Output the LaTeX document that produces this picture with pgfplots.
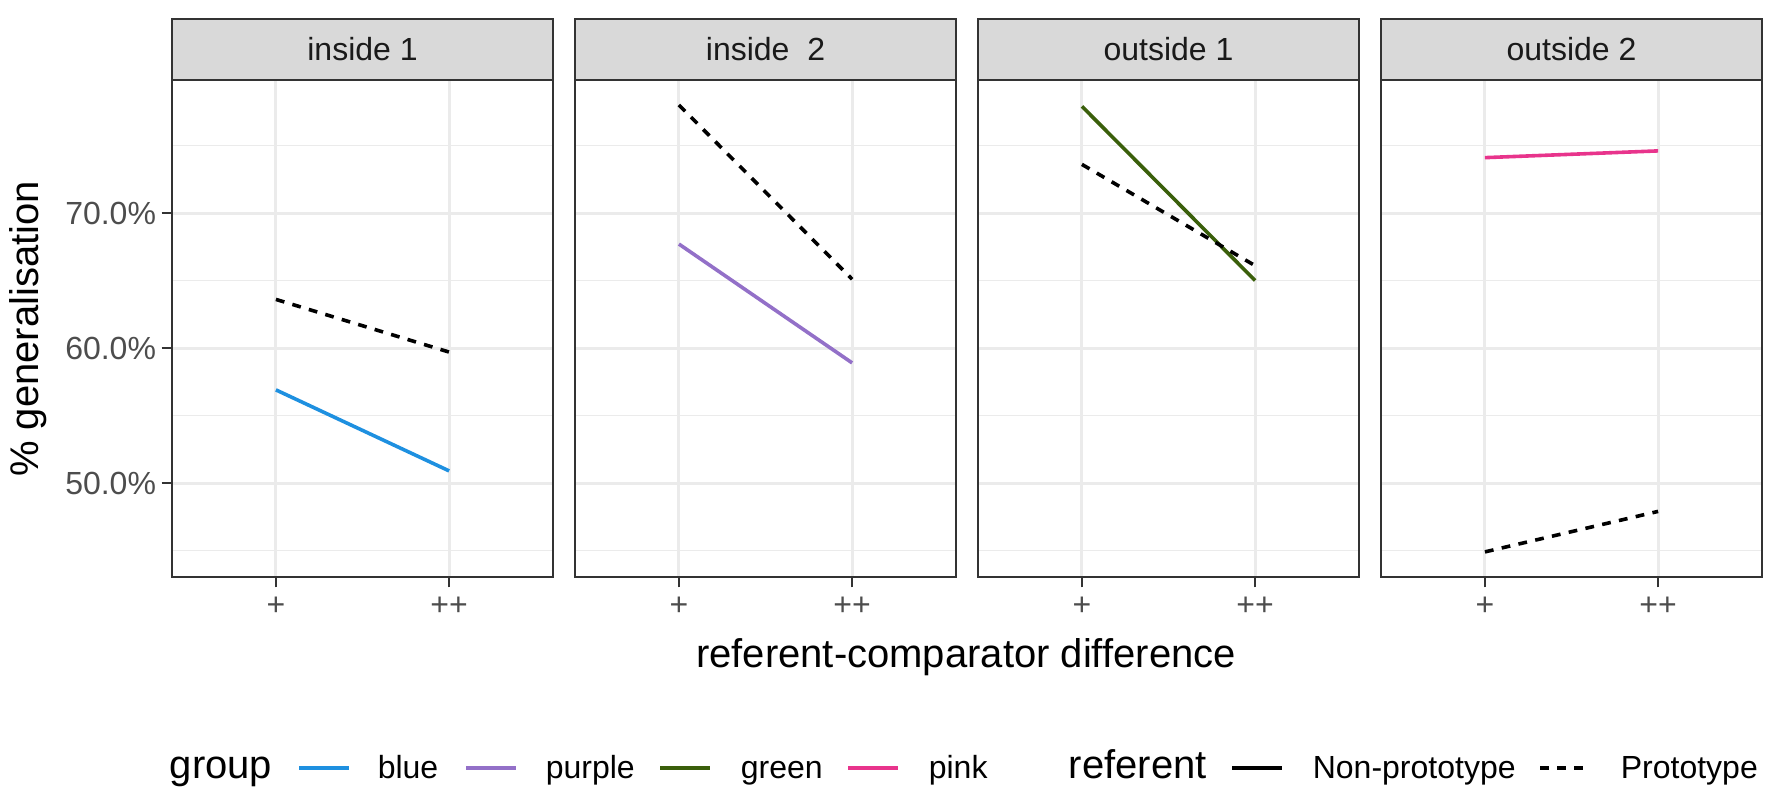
\documentclass[border=0pt]{standalone}
\usepackage{fontspec}
\setmainfont{Liberation Sans}
\usepackage{pgfplots}
\pgfplotsset{compat=1.18}
\definecolor{cblue}{HTML}{1E90E0}
\definecolor{cpurple}{HTML}{9370C8}
\definecolor{cgreen}{HTML}{3A5F0B}
\definecolor{cpink}{HTML}{E8348C}
\definecolor{gridc}{HTML}{EBEBEB}
\definecolor{g20}{HTML}{333333}
\definecolor{g30}{HTML}{4D4D4D}
\definecolor{g85}{HTML}{D9D9D9}
\definecolor{g10}{HTML}{1A1A1A}

\tikzset{proto/.style={black, dash pattern=on 2.2pt off 2.1pt}}
\pgfplotsset{
 panel/.style={
  scale only axis, width=95.25pt, height=124.25pt,
  anchor=south west,
  xmin=0.4, xmax=2.6, ymin=43.04, ymax=79.85,
  xtick={1,2}, xticklabels={+,++},
  ytick={50,60,70}, minor ytick={45,55,65,75},
  xmajorgrids, ymajorgrids, yminorgrids,
  major grid style={gridc, line width=0.75pt},
  minor grid style={gridc, line width=0.45pt},
  axis line style={g20, line width=0.55pt},
  tick align=outside, major tick length=2.6pt, minor tick length=0pt,
  tick style={g20, line width=0.55pt},
  xtick pos=left, ytick pos=left,
  ticklabel style={font=\fontsize{8}{9.6}\selectfont, text=g30},
  xticklabel style={anchor=north, inner sep=0pt, yshift=-2.2pt},
  yticklabel style={anchor=east, inner sep=0pt, xshift=-1.2pt},
  every axis plot/.append style={line width=0.9pt},
 },
 inner/.style={panel, yticklabels=\empty, ytick style={draw=none}},
}

\newcommand{\strip}[2]{%
  \draw[g20, line width=0.55pt, fill=g85] (#1.north west) rectangle ([yshift=15.25pt]#1.north east);
  \node[font=\fontsize{8}{9.6}\selectfont, text=g10] at ([yshift=7.625pt]#1.north) {#2};
}
\newcommand{\legtext}[3]{\node[anchor=base west, inner sep=0pt, font=\fontsize{#3}{12}\selectfont] at (#1,6.75pt) {#2};}
\newcommand{\legkey}[2]{\draw[#2, line width=0.9pt] (#1,9.25pt) -- ++(12.5pt,0);}

\begin{document}
\begin{tikzpicture}
\path[use as bounding box] (0,0) rectangle (443pt,201.25pt);

% panel 1
\begin{axis}[panel, name=p1, at={(43pt,57pt)},
  yticklabels={50.0\%,60.0\%,70.0\%}]
\addplot[cblue] coordinates {(1,56.9) (2,50.9)};
\addplot[proto] coordinates {(1,63.6) (2,59.7)};
\end{axis}
\strip{p1}{inside 1}

% panel 2
\begin{axis}[inner, name=p2, at={(143.75pt,57pt)}]
\addplot[cpurple] coordinates {(1,67.7) (2,58.9)};
\addplot[proto] coordinates {(1,78.0) (2,65.1)};
\end{axis}
\strip{p2}{inside\ \ 2}

% panel 3
\begin{axis}[inner, name=p3, at={(244.5pt,57pt)}]
\addplot[cgreen] coordinates {(1,77.9) (2,65.0)};
\addplot[proto] coordinates {(1,73.6) (2,66.1)};
\end{axis}
\strip{p3}{outside 1}

% panel 4
\begin{axis}[inner, name=p4, at={(345.25pt,57pt)}]
\addplot[cpink] coordinates {(1,74.1) (2,74.6)};
\addplot[proto] coordinates {(1,44.9) (2,47.9)};
\end{axis}
\strip{p4}{outside 2}

\node[font=\fontsize{10}{12}\selectfont] at (241.5pt,37pt) {referent-comparator difference};
\node[font=\fontsize{10}{12}\selectfont, rotate=90] at (7pt,119pt) {\% generalisation};

% legend
\legtext{42.25pt}{group}{10}
\legkey{74.75pt}{cblue}
\legtext{94.25pt}{blue}{8}
\legkey{116.5pt}{cpurple}
\legtext{136.25pt}{purple}{8}
\legkey{165pt}{cgreen}
\legtext{185pt}{green}{8}
\legkey{212pt}{cpink}
\legtext{232pt}{pink}{8}
\legtext{267pt}{referent}{10}
\legkey{308pt}{black}
\legtext{328pt}{Non-prototype}{8}
\legkey{385pt}{proto}
\legtext{405pt}{Prototype}{8}
\end{tikzpicture}
\end{document}
